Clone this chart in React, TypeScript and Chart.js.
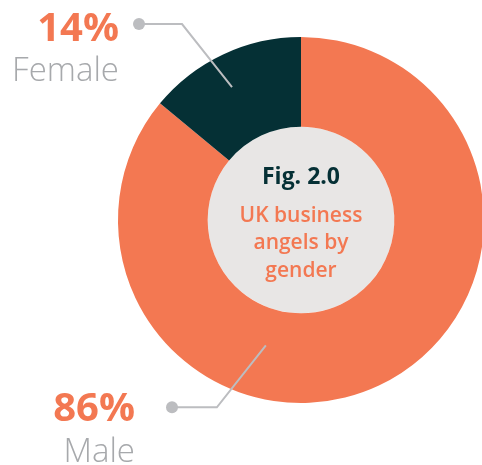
import React, { useEffect, useRef } from "react";
import { Chart, registerables } from "chart.js";

Chart.register(...registerables);

const categories = ["Male", "Female"];
const values = [86, 14];
const valueLabels = ["86%", "14%"];
const colors = ["#f37852", "#053035"];

// leader-line annotation styling: anchor position inside the segment (angle fraction, radial fraction),
// elbow offset from anchor, dot x
const leaderStyle = [
  { angleFrac: 0.632, radFrac: 0.41, elbowDx: -49, elbowDy: 62, dotX: 172, textRight: 135, pctBaseline: 421, nameBaseline: 462 },
  { angleFrac: 0.456, radFrac: 0.63, elbowDx: -50, elbowDy: -63, dotX: 139, textRight: 119, pctBaseline: 41, nameBaseline: 81 },
];

const FONT = "'Open Sans', 'Noto Sans', sans-serif";

const annotatePlugin = {
  id: "annotate",
  beforeDatasetsDraw(chart: any) {
    const meta = chart.getDatasetMeta(0);
    const arc = meta.data[0];
    if (!arc) return;
    const { x, y, innerRadius } = arc.getProps(["x", "y", "innerRadius"], true);
    const ctx = chart.ctx;
    ctx.save();
    ctx.fillStyle = "#e8e6e5";
    ctx.beginPath();
    ctx.arc(x, y, innerRadius, 0, Math.PI * 2);
    ctx.fill();
    ctx.restore();
  },
  afterDatasetsDraw(chart: any) {
    const meta = chart.getDatasetMeta(0);
    const ctx = chart.ctx;
    ctx.save();
    meta.data.forEach((arc: any, i: number) => {
      const p = arc.getProps(["x", "y", "startAngle", "endAngle", "innerRadius", "outerRadius"], true);
      const s = leaderStyle[i];
      const ang = p.startAngle + (p.endAngle - p.startAngle) * s.angleFrac;
      const r = p.innerRadius + (p.outerRadius - p.innerRadius) * s.radFrac;
      const ax = p.x + r * Math.cos(ang);
      const ay = p.y + r * Math.sin(ang);
      const ex = ax + s.elbowDx;
      const ey = ay + s.elbowDy;
      ctx.strokeStyle = "#bcbdc0";
      ctx.lineWidth = 2;
      ctx.lineJoin = "miter";
      ctx.beginPath();
      ctx.moveTo(ax, ay);
      ctx.lineTo(ex, ey);
      ctx.lineTo(s.dotX, ey);
      ctx.stroke();
      ctx.fillStyle = "#bcbdc0";
      ctx.beginPath();
      ctx.arc(s.dotX, ey, 6, 0, Math.PI * 2);
      ctx.fill();

      ctx.textAlign = "right";
      ctx.textBaseline = "alphabetic";
      ctx.fillStyle = colors[0];
      ctx.font = `bold 40px ${FONT}`;
      ctx.fillText(valueLabels[i], s.textRight, s.pctBaseline);
      ctx.fillStyle = "#a7a9ac";
      ctx.font = `300 33px ${FONT}`;
      ctx.fillText(categories[i], s.textRight, s.nameBaseline);
    });

    const a0 = meta.data[0].getProps(["x", "y"], true);
    ctx.textAlign = "center";
    ctx.fillStyle = "#053035";
    ctx.font = `bold 23px ${FONT}`;
    ctx.fillText("Fig. 2.0", a0.x, a0.y - 36);
    ctx.fillStyle = colors[0];
    ctx.font = `600 21px ${FONT}`;
    ctx.fillText("UK business", a0.x, a0.y + 2);
    ctx.fillText("angels by", a0.x, a0.y + 29);
    ctx.fillText("gender", a0.x, a0.y + 57);
    ctx.restore();
  },
};

export default function App() {
  const ref = useRef<HTMLCanvasElement>(null);
  useEffect(() => {
    if (!ref.current) return;
    const chart = new Chart(ref.current, {
      type: "doughnut",
      data: {
        labels: categories,
        datasets: [
          {
            data: values,
            backgroundColor: colors,
            borderWidth: 0,
          },
        ],
      },
      options: {
        responsive: false,
        animation: false,
        cutout: "51%",
        layout: { padding: { left: 118, right: 16, top: 37, bottom: 62 } },
        plugins: {
          legend: { display: false },
          tooltip: { enabled: false },
        },
      },
      plugins: [annotatePlugin],
    });
    return () => chart.destroy();
  }, []);
  return (
    <div style={{ position: "fixed", left: 0, top: 0, width: 482, height: 465, overflow: "hidden", background: "#fff" }}>
      <canvas ref={ref} width={500} height={465} style={{ width: 500, height: 465, display: "block" }} />
    </div>
  );
}
